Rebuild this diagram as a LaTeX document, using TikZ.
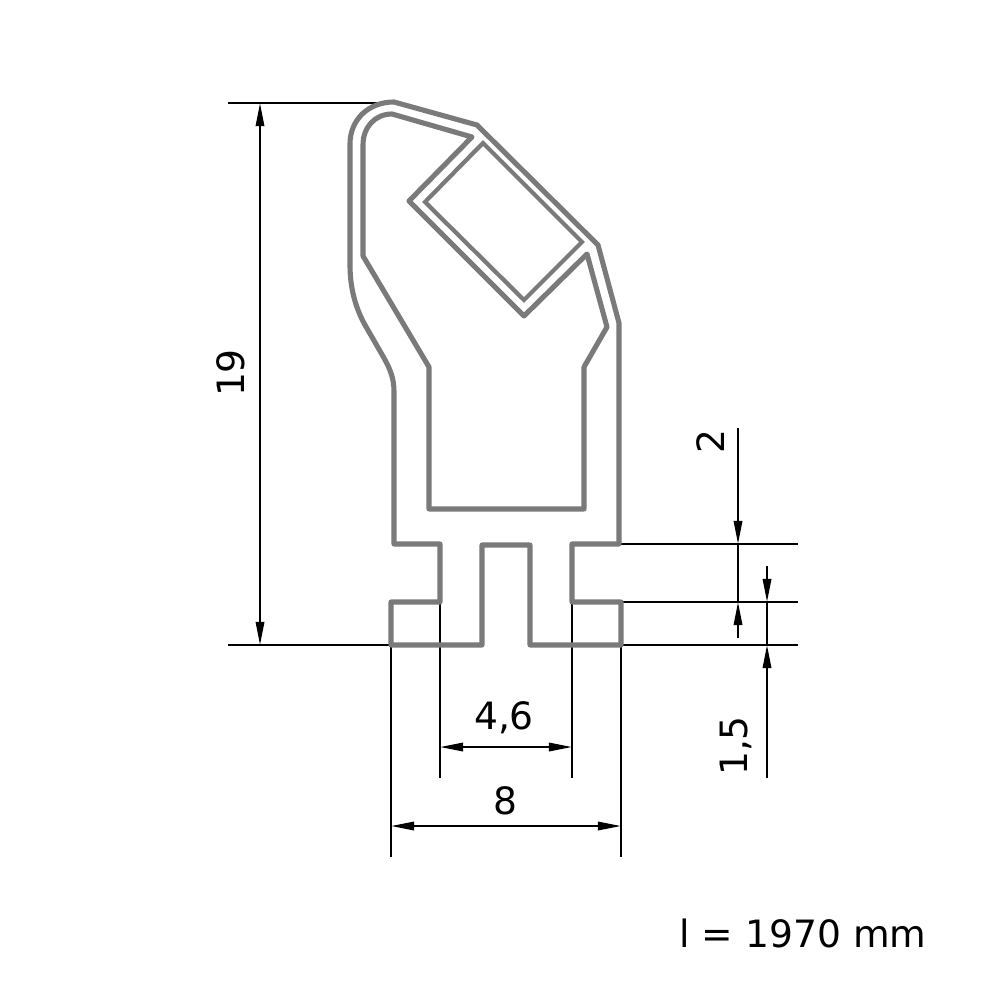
\documentclass[tikz,border=0pt]{standalone}
\usepackage{fontspec}
\setmainfont{DejaVu Sans}
\usetikzlibrary{arrows.meta}
\tikzset{
  prof/.style={draw=profgray,line width=1.45pt,line join=round},
  profthin/.style={draw=profgray,line width=1.2pt,line join=miter},
  dim/.style={draw=black,line width=0.6pt},
  dimarrow/.style={dim,-{Triangle[length=6.6pt,width=2.4pt]}},
  dimdouble/.style={dim,{Triangle[length=6.6pt,width=2.4pt]}-{Triangle[length=6.6pt,width=2.4pt]}},
  lbl/.style={font=\fontsize{10.7pt}{12pt}\selectfont,inner sep=0pt,text=black}
}
\definecolor{profgray}{HTML}{7A7A7A}
\begin{document}
\begin{tikzpicture}[x=0.01cm,y=-0.01cm]
\useasboundingbox (0,0) rectangle (1000,1000);
% extension lines
\draw[dim] (228,103) -- (394,103);
\draw[dim] (228,645) -- (391,645);
\draw[dim] (619,544) -- (798,544);
\draw[dim] (621,602) -- (798,602);
\draw[dim] (621,645) -- (798,645);
\draw[dim] (440,602) -- (440,778);
\draw[dim] (572,601) -- (572,778);
\draw[dim] (391,645) -- (391,857);
\draw[dim] (621,645) -- (621,857);
% profile
\draw[prof] (394,102) -- (477,125) -- (598,245) -- (619,323) -- (619,544) -- (572,544)
  -- (572,602) -- (621,602) -- (621,645) -- (530,645) -- (530,545) -- (482,545) -- (482,645)
  -- (391,645) -- (391,602) -- (440,602) -- (440,544) -- (394,544) -- (394,392)
  .. controls (394,378) and (390,369) .. (384,358)
  -- (365,325)
  .. controls (355,307) and (350,287) .. (350,265)
  -- (350,144)
  .. controls (350,120) and (368,102) .. (394,102) -- cycle;
\draw[prof] (392,114) -- (472,137) -- (409,201) -- (524,316) -- (587,254) -- (607,327)
  -- (584,367) -- (584,509) -- (429,509) -- (429,367) -- (363,256) -- (363,145)
  .. controls (363,127) and (375,114) .. (392,114) -- cycle;
\draw[profthin] (483,143) -- (582,242) -- (524,300) -- (425,202) -- cycle;
% dimensions
\coordinate (t19) at (260,103); \coordinate (b19) at (260,645);
\draw[dimdouble] (t19) -- (b19);
\coordinate (a46) at (440,747); \coordinate (b46) at (572,747);
\draw[dimdouble] (a46) -- (b46);
\coordinate (a8) at (391,826); \coordinate (b8) at (621,826);
\draw[dimdouble] (a8) -- (b8);
\coordinate (s2) at (738,428); \coordinate (t2) at (738,544);
\coordinate (s2b) at (738,638); \coordinate (t2b) at (738,602);
\draw[dimarrow] (s2) -- (t2);
\draw[dimarrow] (s2b) -- (t2b);
\draw[dim] (t2) -- (t2b);
\coordinate (s15) at (767,566); \coordinate (t15) at (767,602);
\coordinate (s15b) at (767,778); \coordinate (t15b) at (767,645);
\draw[dimarrow] (s15) -- (t15);
\draw[dimarrow] (s15b) -- (t15b);
\draw[dim] (t15) -- (t15b);
% labels
\node[lbl,rotate=90] (l19) at (231,373) {19};
\node[lbl,rotate=90] (l2) at (711,442) {2};
\node[lbl,rotate=90] (l15) at (736,746) {1,5};
\node[lbl] (l46) at (504,718) {4,6};
\node[lbl] (l8) at (505,801) {8};
\node[lbl] (len) at (803,933) {l = 1970 mm};
\end{tikzpicture}
\end{document}
